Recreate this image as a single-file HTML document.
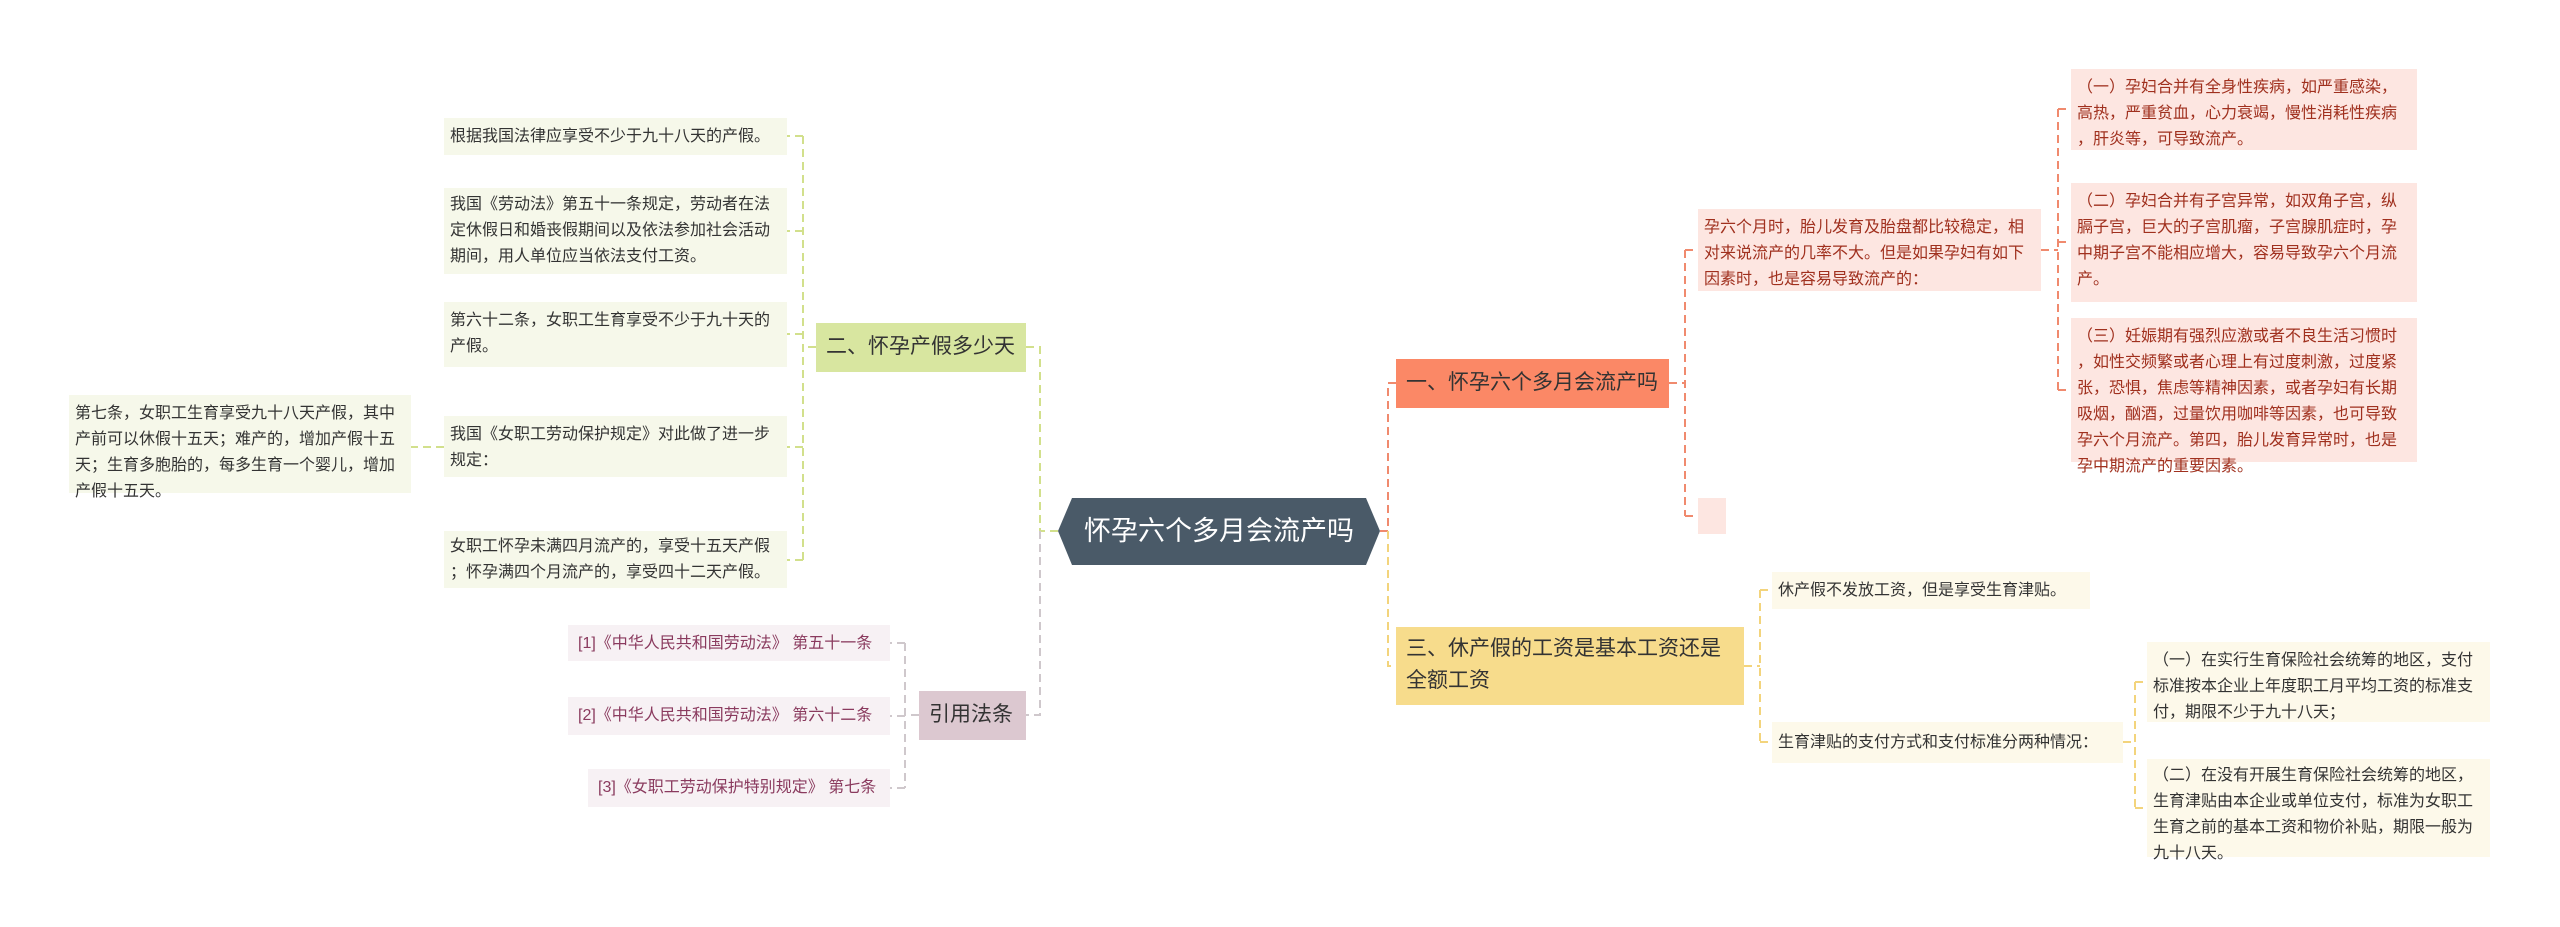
<!DOCTYPE html>
<html><head><meta charset="utf-8"><style>
body{margin:0;width:2560px;height:927px;background:#fff;position:relative;overflow:hidden;font-family:"Liberation Sans","Noto Sans CJK SC",sans-serif;}
.n{position:absolute;box-sizing:border-box;font-size:16px;line-height:26px;padding:6px 6px;color:#333;line-break:anywhere;}
.g{background:#f6f8ea;}
.p{background:#fde6e1;color:#a0301e;}
.y{background:#fdf9ea;}
.r{background:#f7f1f4;color:#8a3a5e;}
.b{font-size:21px;line-height:32px;padding:8px 10px;color:#333;}
.nw{white-space:nowrap;}
</style></head><body>
<svg width="2560" height="927" style="position:absolute;left:0;top:0" fill="none" stroke-width="2" stroke-dasharray="8,5">
<g stroke="#d2e08c">
<path d="M1058 531 H1040 V347 H1026"/>
<path d="M816 347 H803 M803 136 V560 M803 136 H787 M803 231 H787 M803 334 H787 M803 447 H787 M803 560 H787 M444 447 H411"/>
</g>
<g stroke="#cfc8cc">
<path d="M1040 531 V715 H1026"/>
<path d="M919 715 H905 M905 643 V788 M905 643 H890 M905 716 H890 M905 788 H890"/>
</g>
<g stroke="#f08a6e">
<path d="M1380 531 H1388 V383 H1396"/>
<path d="M1669 383 H1685 M1685 250 V516 M1685 250 H1698 M1685 516 H1698"/>
<path d="M2041 250 H2058 M2058 109 V390 M2058 109 H2071 M2058 242 H2071 M2058 390 H2071"/>
</g>
<g stroke="#f3d47c">
<path d="M1388 531 V666 H1396"/>
<path d="M1744 666 H1760 M1760 590 V742 M1760 590 H1772 M1760 742 H1772"/>
<path d="M2123 742 H2135 M2135 682 V808 M2135 682 H2147 M2135 808 H2147"/>
</g>
</svg>
<svg width="2560" height="927" style="position:absolute;left:0;top:0"><polygon points="1072,498 1366,498 1380,531 1366,565 1072,565 1058,531" fill="#4a5a68"/></svg>
<div style="position:absolute;left:1058px;top:498px;width:322px;height:67px;line-height:67px;text-align:center;color:#fff;font-size:27px;">怀孕六个多月会流产吗</div>

<div class="n b nw" style="left:1396px;top:359px;width:273px;height:49px;background:#fb8866;">一、怀孕六个多月会流产吗</div>
<div class="n p" style="left:1698px;top:209px;width:343px;height:82px;">孕六个月时，胎儿发育及胎盘都比较稳定，相对来说流产的几率不大。但是如果孕妇有如下因素时，也是容易导致流产的：</div>
<div class="n p" style="left:2071px;top:69px;width:346px;height:81px;">（一）孕妇合并有全身性疾病，如严重感染，高热，严重贫血，心力衰竭，慢性消耗性疾病，肝炎等，可导致流产。</div>
<div class="n p" style="left:2071px;top:183px;width:346px;height:119px;">（二）孕妇合并有子宫异常，如双角子宫，纵膈子宫，巨大的子宫肌瘤，子宫腺肌症时，孕中期子宫不能相应增大，容易导致孕六个月流产。</div>
<div class="n p" style="left:2071px;top:318px;width:346px;height:144px;">（三）妊娠期有强烈应激或者不良生活习惯时，如性交频繁或者心理上有过度刺激，过度紧张，恐惧，焦虑等精神因素，或者孕妇有长期吸烟，酗酒，过量饮用咖啡等因素，也可导致孕六个月流产。第四，胎儿发育异常时，也是孕中期流产的重要因素。</div>
<div class="n p" style="left:1698px;top:498px;width:28px;height:36px;padding:0"></div>

<div class="n b" style="left:1396px;top:627px;width:348px;height:78px;background:#f7dc8c;padding:6px 10px;">三、休产假的工资是基本工资还是全额工资</div>
<div class="n y" style="left:1772px;top:572px;width:318px;height:37px;">休产假不发放工资，但是享受生育津贴。</div>
<div class="n y nw" style="left:1772px;top:722px;width:351px;height:41px;padding-top:8px">生育津贴的支付方式和支付标准分两种情况：</div>
<div class="n y" style="left:2147px;top:642px;width:343px;height:80px;">（一）在实行生育保险社会统筹的地区，支付标准按本企业上年度职工月平均工资的标准支付，期限不少于九十八天；</div>
<div class="n y" style="left:2147px;top:759px;width:343px;height:98px;padding-top:4px">（二）在没有开展生育保险社会统筹的地区，生育津贴由本企业或单位支付，标准为女职工生育之前的基本工资和物价补贴，期限一般为九十八天。</div>

<div class="n b nw" style="left:816px;top:323px;width:210px;height:49px;background:#d8e6a0;">二、怀孕产假多少天</div>
<div class="n g" style="left:444px;top:118px;width:343px;height:37px;">根据我国法律应享受不少于九十八天的产假。</div>
<div class="n g" style="left:444px;top:188px;width:343px;height:86px;padding-top:4px">我国《劳动法》第五十一条规定，劳动者在法定休假日和婚丧假期间以及依法参加社会活动期间，用人单位应当依法支付工资。</div>
<div class="n g" style="left:444px;top:302px;width:343px;height:65px;">第六十二条，女职工生育享受不少于九十天的产假。</div>
<div class="n g" style="left:444px;top:416px;width:343px;height:61px;">我国《女职工劳动保护规定》对此做了进一步规定：</div>
<div class="n g" style="left:444px;top:531px;width:343px;height:57px;padding-top:3px">女职工怀孕未满四月流产的，享受十五天产假；怀孕满四个月流产的，享受四十二天产假。</div>
<div class="n g" style="left:69px;top:395px;width:342px;height:98px;">第七条，女职工生育享受九十八天产假，其中产前可以休假十五天；难产的，增加产假十五天；生育多胞胎的，每多生育一个婴儿，增加产假十五天。</div>

<div class="n b nw" style="left:919px;top:691px;width:107px;height:49px;background:#dcc8d0;">引用法条</div>
<div class="n r nw" style="left:568px;top:625px;width:322px;height:36px;padding-left:10px">[1]《中华人民共和国劳动法》 第五十一条</div>
<div class="n r nw" style="left:568px;top:697px;width:322px;height:38px;padding-left:10px">[2]《中华人民共和国劳动法》 第六十二条</div>
<div class="n r nw" style="left:588px;top:769px;width:302px;height:38px;padding-left:10px">[3]《女职工劳动保护特别规定》 第七条</div>
</body></html>
